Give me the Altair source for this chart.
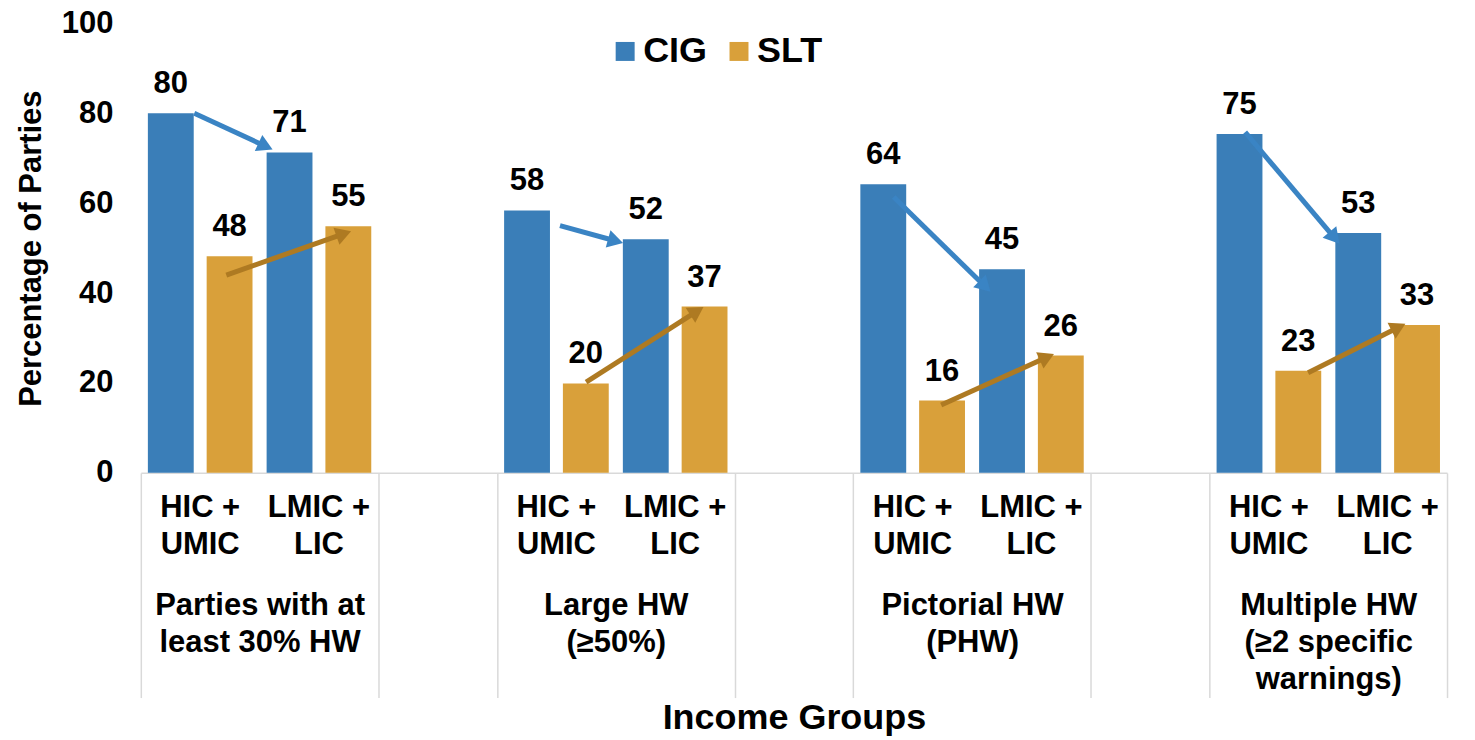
import math
import json
import altair as alt
import pandas as pd

# ---------------- data ----------------
groups = [
    ["Parties with at", "least 30% HW"],
    ["Large HW", "(≥50%)"],
    ["Pictorial HW", "(PHW)"],
    ["Multiple HW", "(≥2 specific", "warnings)"],
]
incomes = [["HIC +", "UMIC"], ["LMIC +", "LIC"]]
series = ["CIG", "SLT"]

cig_high = [80.0, 58.4, 64.2, 75.4]
cig_low = [71.3, 52.0, 45.3, 53.4]
slt_high = [48.2, 19.9, 16.1, 22.7]
slt_low = [54.9, 37.0, 26.1, 32.9]

y_ticks = [0, 20, 40, 60, 80, 100]

# arrows (in slot units along x, percentage along y)
arrow_series = ["CIG", "SLT", "CIG", "SLT", "CIG", "SLT", "CIG", "SLT"]
arrow_x0 = [0.45, 0.72, 3.53, 3.75, 6.34, 6.74, 9.30, 9.83]
arrow_y0 = [80.0, 44.0, 55.0, 20.2, 61.4, 15.1, 75.8, 22.3]
arrow_x1 = [1.09, 1.75, 4.04, 4.72, 7.14, 7.67, 10.08, 10.63]
arrow_y1 = [72.2, 53.6, 51.3, 36.6, 40.7, 26.2, 51.4, 32.9]

# ---------------- styles ----------------
FONT = "Liberation Sans"
BLUE = "#3A7EB8"
ORANGE = "#D9A03A"
ARROW_BLUE = "#3A84C4"
ARROW_ORANGE = "#AE7A22"
GRID = "#D9D9D9"
W, H = 1308, 450
HEAD_SIZE = 320

# ---------------- tables ----------------
slots = []
for g in range(len(groups)):
    for inc in incomes:
        slots.append("|".join(inc) + "#" + str(g))
    if g < len(groups) - 1:
        slots.append("#" + str(g))
n_slots = len(slots)

rows = []
for g in range(len(groups)):
    vals = [(cig_high[g], cig_low[g]), (slt_high[g], slt_low[g])]
    for si, s in enumerate(series):
        for ii, inc in enumerate(incomes):
            rows.append({"slot": "|".join(inc) + "#" + str(g), "series": s, "value": vals[si][ii]})
bars_df = pd.DataFrame(rows)

SX = W / n_slots
SY = H / 100.0
r = math.sqrt(HEAD_SIZE) / 2
h = math.sqrt(3) / 2 * r
line_rows, head_rows = [], []
for i, s in enumerate(arrow_series):
    dx = (arrow_x1[i] - arrow_x0[i]) * SX
    dy = (arrow_y1[i] - arrow_y0[i]) * SY
    L = math.hypot(dx, dy)
    ux, uy = dx / L, dy / L
    hx = arrow_x1[i] - h * ux / SX
    hy = arrow_y1[i] - h * uy / SY
    ang = math.degrees(math.atan2(dx, dy)) % 360
    line_rows.append({"arrow": i, "k": 0, "series": s, "s": arrow_x0[i], "value": arrow_y0[i]})
    line_rows.append({"arrow": i, "k": 1, "series": s, "s": hx, "value": hy})
    head_rows.append({"arrow": i, "series": s, "hs": hx, "value": hy, "angle": ang})
lines_df = pd.DataFrame(line_rows)
heads_df = pd.DataFrame(head_rows)

# ---------------- encodings ----------------
label_common = dict(labelFont=FONT, labelFontWeight="bold", labelColor="black", labelFontSize=31)

band_scale = alt.Scale(type="band", domain=slots, paddingInner=0, paddingOuter=0)
x_band = alt.X(
    "slot:N",
    scale=band_scale,
    axis=alt.Axis(
        orient="bottom", title=None, labelAngle=0,
        labelExpr="split(split(datum.value, '#')[0], '|')",
        ticks=False, tickSize=0, domain=True, domainColor=GRID, domainWidth=1.5,
        labelPadding=20, labelLineHeight=37, labelBaseline="top",
        labelOverlap=False, labelLimit=0, grid=False, **label_common,
    ),
)
x_band_plain = alt.X("slot:N", scale=band_scale, axis=None)
off_scale = alt.Scale(type="band", domain=series, paddingInner=0.22, paddingOuter=0.12)
x_off = alt.XOffset("series:N", scale=off_scale)

y_scale = alt.Scale(domain=[0, 100], nice=False)
y_axis = alt.Axis(
    orient="left", values=y_ticks, title="Percentage of Parties", grid=False, ticks=False, tickSize=0,
    domain=False, labelPadding=28, titleFont=FONT, titleFontSize=31, titleFontWeight="bold",
    titleColor="black", titlePadding=14, **label_common,
)
y_val = alt.Y("value:Q", scale=y_scale, axis=y_axis)

color = alt.Color(
    "series:N",
    scale=alt.Scale(domain=series, range=[BLUE, ORANGE]),
    legend=alt.Legend(
        orient="none", legendX=467, legendY=10, direction="horizontal", title=None,
        labelFont=FONT, labelFontWeight="bold", labelFontSize=36, labelColor="black",
        symbolType="square", symbolSize=361, symbolStrokeWidth=0, labelOffset=0,
        columnPadding=13, padding=0,
    ),
)

bars = alt.Chart(bars_df).mark_bar().encode(x=x_band, xOffset=x_off, y=y_val, color=color)
labels = alt.Chart(bars_df).mark_text(
    font=FONT, fontWeight="bold", fontSize=31, color="black", baseline="alphabetic", dy=-20
).encode(
    x=x_band_plain, xOffset=x_off, y=y_val,
    text=alt.Text("value:Q", format=".0f"),
)

q_scale = alt.Scale(domain=[0, n_slots], nice=False, zero=False)
group_expr = json.dumps(groups, ensure_ascii=False) + "[floor(datum.value / 3)]"
group_centers = [g * 3 + 1 for g in range(len(groups))]

arrow_lines = alt.Chart(lines_df).mark_line(strokeWidth=5, strokeCap="butt").encode(
    x=alt.X(
        "s:Q", scale=q_scale,
        axis=alt.Axis(
            orient="bottom", values=group_centers, labelExpr=group_expr, ticks=False, tickSize=0,
            domain=False, grid=False, labelPadding=118, labelLineHeight=37, labelBaseline="top",
            labelFlush=False, labelOverlap=False, labelLimit=0, title="Income Groups",
            titleFont=FONT, titleFontSize=36, titleFontWeight="bold", titleColor="black",
            titleY=228, titleBaseline="top", **label_common,
        ),
    ),
    y=y_val,
    stroke=alt.Stroke("series:N", scale=alt.Scale(domain=series, range=[ARROW_BLUE, ARROW_ORANGE]), legend=None),
    detail="arrow:N",
    order="k:O",
)

sep_values = []
for g in range(len(groups)):
    sep_values += [g * 3, g * 3 + 2]
sep_values = sorted(set(sep_values + [n_slots]))

arrow_heads = alt.Chart(heads_df).mark_point(shape="triangle", filled=True, size=HEAD_SIZE, opacity=1, strokeWidth=0).encode(
    x=alt.X(
        "hs:Q", scale=q_scale,
        axis=alt.Axis(
            orient="bottom", values=sep_values, labels=False, ticks=True, tickSize=225,
            tickColor=GRID, tickWidth=1.5, domain=False, grid=False, title=None,
        ),
    ),
    y=y_val,
    fill=alt.Fill("series:N", scale=alt.Scale(domain=series, range=[ARROW_BLUE, ARROW_ORANGE]), legend=None),
    angle=alt.Angle("angle:Q", scale=None),
)

chart = alt.layer(
    bars, labels, arrow_lines, arrow_heads
).resolve_scale(x="independent", xOffset="independent").properties(
    width=W, height=H,
    padding={"left": 133, "top": 15, "right": 20, "bottom": 266},
    autosize=alt.AutoSizeParams(type="none"),
).configure_view(stroke=None)

chart.save("out.html", embed_options={"renderer": "svg", "actions": False})
